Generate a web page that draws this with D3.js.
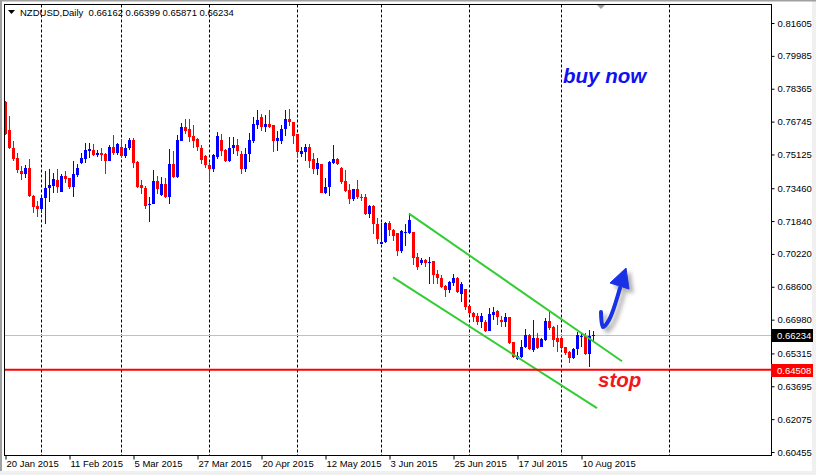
<!DOCTYPE html>
<html><head><meta charset="utf-8">
<script src="https://cdn.jsdelivr.net/npm/d3@7"></script>
<style>
html,body{margin:0;padding:0;background:#fff;}
svg{display:block;font-family:"Liberation Sans",Arial,sans-serif;}
</style></head>
<body>
<svg id="c" width="816" height="475"></svg>
<script>
// ---------- data (NZDUSD daily, 20 Jan 2015 .. 13 Aug 2015) ----------
const symbolTitle = "NZDUSD,Daily";
const lastOHLC = [0.66162, 0.66399, 0.65871, 0.66234];

const opens = [.7772,.7634,.7545,.7496,.7432,.7418,.7447,.7309,.7260,.7245,
.7299,.7349,.7358,.7388,.7329,.7408,.7398,.7354,.7413,.7472,
.7491,.7531,.7536,.7511,.7521,.7516,.7482,.7550,.7521,.7550,
.7506,.7545,.7585,.7477,.7363,.7349,.7265,.7270,.7383,.7314,
.7368,.7304,.7467,.7403,.7580,.7649,.7639,.7604,.7590,.7545,
.7506,.7462,.7442,.7501,.7585,.7536,.7482,.7545,.7560,.7516,
.7442,.7516,.7580,.7659,.7698,.7649,.7664,.7659,.7580,.7580,
.7639,.7688,.7673,.7614,.7516,.7526,.7550,.7491,.7442,.7467,
.7324,.7354,.7472,.7491,.7447,.7383,.7339,.7295,.7344,.7304,
.7304,.7221,.7260,.7172,.7073,.7083,.7176,.7142,.7127,.7034,
.7124,.7127,.7132,.7009,.6975,.6994,.6975,.6985,.6921,.6901,
.6862,.6842,.6881,.6901,.6822,.6847,.6763,.6729,.6714,.6685,
.6685,.6640,.6719,.6739,.6694,.6685,.6709,.6586,.6502,.6512,
.6562,.6621,.6547,.6606,.6562,.6596,.6689,.6660,.6606,.6606,
.6562,.6537,.6507,.6552,.6611,.6616,.6527,.66162];

const highs = [.7777,.7703,.7580,.7521,.7457,.7462,.7491,.7314,.7285,.7304,
.7432,.7442,.7423,.7442,.7418,.7432,.7398,.7482,.7467,.7521,
.7570,.7570,.7565,.7536,.7545,.7521,.7560,.7609,.7570,.7590,
.7565,.7595,.7595,.7482,.7388,.7358,.7304,.7437,.7408,.7403,
.7398,.7541,.7531,.7609,.7668,.7688,.7688,.7659,.7595,.7560,
.7511,.7472,.7516,.7624,.7614,.7541,.7600,.7600,.7590,.7531,
.7545,.7619,.7698,.7732,.7713,.7708,.7732,.7659,.7629,.7659,
.7732,.7737,.7673,.7614,.7550,.7565,.7565,.7521,.7496,.7467,
.7398,.7482,.7560,.7496,.7452,.7437,.7368,.7344,.7388,.7319,
.7319,.7265,.7265,.7201,.7176,.7181,.7186,.7147,.7127,.7142,
.7172,.7226,.7132,.7029,.7004,.6999,.7009,.6985,.6945,.6916,
.6871,.6891,.6921,.6906,.6886,.6847,.6763,.6734,.6729,.6729,
.6694,.6753,.6758,.6744,.6714,.6729,.6709,.6586,.6537,.6596,
.6650,.6625,.6694,.6630,.6606,.6704,.6734,.6665,.6670,.6616,
.6562,.6542,.6557,.6635,.6630,.6630,.6645,.66399];

const lows = [.7609,.7541,.7482,.7423,.7388,.7398,.7304,.7226,.7206,.7226,
.7172,.7280,.7324,.7324,.7329,.7373,.7344,.7304,.7403,.7467,
.7472,.7496,.7506,.7501,.7482,.7418,.7482,.7511,.7511,.7496,
.7496,.7536,.7447,.7349,.7319,.7245,.7181,.7270,.7319,.7309,
.7299,.7270,.7398,.7398,.7580,.7614,.7575,.7545,.7531,.7467,
.7447,.7383,.7427,.7491,.7506,.7477,.7477,.7516,.7506,.7418,
.7427,.7477,.7570,.7639,.7629,.7624,.7644,.7526,.7531,.7565,
.7604,.7654,.7565,.7496,.7501,.7482,.7447,.7418,.7413,.7322,
.7319,.7309,.7467,.7462,.7368,.7329,.7270,.7285,.7295,.7285,
.7216,.7201,.7122,.7073,.7070,.7078,.7112,.7088,.7014,.7029,
.7063,.7122,.6965,.6945,.6965,.6960,.6876,.6876,.6876,.6852,
.6808,.6827,.6862,.6827,.6783,.6744,.6719,.6685,.6670,.6655,
.6635,.6640,.6694,.6670,.6660,.6660,.6576,.6507,.6498,.6507,
.6557,.6547,.6537,.6552,.6562,.6591,.6645,.6562,.6537,.6555,
.6522,.6483,.6502,.6522,.6562,.6522,.6463,.65871];

const closes = [.7614,.7545,.7491,.7437,.7418,.7447,.7309,.7255,.7245,.7299,
.7349,.7363,.7393,.7354,.7408,.7393,.7354,.7418,.7447,.7496,
.7536,.7541,.7511,.7521,.7511,.7482,.7550,.7521,.7565,.7506,
.7545,.7585,.7472,.7354,.7349,.7260,.7270,.7383,.7344,.7368,
.7304,.7467,.7403,.7585,.7649,.7629,.7600,.7580,.7550,.7486,
.7462,.7442,.7511,.7604,.7531,.7482,.7545,.7560,.7531,.7442,
.7516,.7585,.7664,.7683,.7649,.7664,.7649,.7580,.7595,.7639,
.7688,.7673,.7604,.7526,.7531,.7550,.7482,.7442,.7472,.7324,
.7354,.7477,.7491,.7467,.7378,.7334,.7295,.7344,.7304,.7299,
.7221,.7260,.7172,.7098,.7083,.7176,.7142,.7112,.7034,.7137,
.7129,.7191,.7004,.6960,.6994,.6975,.6980,.6916,.6901,.6857,
.6842,.6886,.6901,.6832,.6876,.6758,.6729,.6709,.6685,.6714,
.6640,.6724,.6734,.6709,.6685,.6709,.6581,.6512,.6517,.6562,
.6621,.6552,.6606,.6557,.6601,.6689,.6655,.6596,.6586,.6557,
.6532,.6507,.6552,.6621,.6616,.6527,.6616,.66234];

// x-axis labels (bar index -> label)
const dateLabels = ["20 Jan 2015","11 Feb 2015","5 Mar 2015","27 Mar 2015","20 Apr 2015",
                    "12 May 2015","3 Jun 2015","25 Jun 2015","17 Jul 2015","10 Aug 2015"];
const dateIdx = [0,16,32,48,64,80,96,112,128,144];
// month separators (bar index)
const gridIdx = [9,29,51,73,94,116,139,166];
// price-axis tick labels
const yTicks = [0.81605,0.79985,0.78365,0.76745,0.75125,0.73460,0.71840,
                0.70220,0.68600,0.66980,0.65315,0.63695,0.62075,0.60455];
const currentPrice = 0.66234;
const stopPrice = 0.64508;
// trend channel (bar index, price)
const channelUpper = [[101,0.7221],[154.25,0.6493]];
const channelLower = [[97,0.6906],[148,0.6262]];
// annotations (bar index, price)
const buyNowAt = [139.5,0.7866];
const stopAt = [148.25,0.6368];
const arrowShaft = [[149,0.67357],[149.5,0.66618],[151,0.66963],[153.75,0.6854]];
const arrowHead = [[155.25,0.69526],[151.25,0.68787],[156,0.68491]];

// ---------- scales ----------
const svg = d3.select("#c");
const PL=4.5, PR=771.5, PT=4.5, PB=455.5;
const x = d3.scaleLinear().domain([0,191.5]).range([5,771]);
const y = d3.scaleLinear().domain([0.60455,0.81605]).range([452,23]);

// window chrome
svg.append("rect").attr("x",0).attr("y",0).attr("width",816).attr("height",475).attr("fill","#fff");
svg.append("rect").attr("x",0).attr("y",471).attr("width",816).attr("height",4).attr("fill","#f0f0f0");
svg.append("rect").attr("x",812).attr("y",0).attr("width",4).attr("height",475).attr("fill","#f0f0f0");
svg.append("rect").attr("x",0).attr("y",0).attr("width",816).attr("height",1.5).attr("fill","#a0a0a0");
svg.append("rect").attr("x",0).attr("y",0).attr("width",2).attr("height",471).attr("fill","#a0a0a0");

const plot = svg.append("g");
const clipId="pc";
svg.append("defs").append("clipPath").attr("id",clipId)
  .append("rect").attr("x",PL).attr("y",PT).attr("width",PR-PL).attr("height",PB-PT);

// grid
plot.selectAll("line.grid").data(gridIdx).enter().append("line")
  .attr("x1",d=>Math.round(x(d))+0.5).attr("x2",d=>Math.round(x(d))+0.5)
  .attr("y1",PT).attr("y2",PB)
  .attr("stroke","#000").attr("stroke-width",1).attr("stroke-dasharray","3,2");

// current price line
plot.append("line").attr("x1",PL).attr("x2",PR)
  .attr("y1",Math.round(y(currentPrice))+0.5).attr("y2",Math.round(y(currentPrice))+0.5)
  .attr("stroke","#c0c0c0").attr("stroke-width",1);

// candles
const bars = d3.range(opens.length).map(i=>({i,o:opens[i],h:highs[i],l:lows[i],c:closes[i]}));
const cg = plot.append("g").attr("clip-path",`url(#${clipId})`);
const g = cg.selectAll("g.k").data(bars).enter().append("g");
g.append("rect")
  .attr("x",d=>Math.round(x(d.i)))
  .attr("y",d=>Math.round(y(d.h)))
  .attr("width",1)
  .attr("height",d=>Math.max(1,Math.round(y(d.l))-Math.round(y(d.h))))
  .attr("fill",d=>d.c>=d.o?"#0000ff":"#ff0000");
g.append("rect")
  .attr("x",d=>Math.round(x(d.i))-1)
  .attr("y",d=>Math.round(y(Math.max(d.o,d.c))))
  .attr("width",3)
  .attr("height",d=>Math.max(1,Math.round(y(Math.min(d.o,d.c)))-Math.round(y(Math.max(d.o,d.c)))))
  .attr("fill",d=>d.c>=d.o?"#0000ff":"#ff0000");

// channel lines
const ln = d3.line().x(d=>x(d[0])).y(d=>y(d[1]));
[channelUpper,channelLower].forEach(c=>{
  cg.append("path").attr("d",ln(c)).attr("fill","none")
    .attr("stroke","#32cd32").attr("stroke-width",2);
});

// stop line
cg.append("line").attr("x1",PL).attr("x2",PR)
  .attr("y1",y(stopPrice)).attr("y2",y(stopPrice))
  .attr("stroke","#ff0000").attr("stroke-width",2);

// arrow with shadow
const defs = svg.select("defs");
const f = defs.append("filter").attr("id","blur").attr("x","-50%").attr("y","-50%").attr("width","200%").attr("height","200%");
f.append("feGaussianBlur").attr("stdDeviation",2);
const shaft = d3.line().x(d=>x(d[0])).y(d=>y(d[1])).curve(d3.curveCatmullRom);
const headPts = arrowHead.map(d=>[x(d[0]),y(d[1])]);
function drawArrow(gp,color,dx,dy){
  const a = gp.append("g").attr("transform",`translate(${dx},${dy})`);
  a.append("path").attr("d",shaft(arrowShaft)).attr("fill","none")
    .attr("stroke",color).attr("stroke-width",4).attr("stroke-linecap","round");
  a.append("polygon").attr("points",headPts.map(p=>p.join(",")).join(" "))
    .attr("fill",color).attr("stroke",color).attr("stroke-width",1).attr("stroke-linejoin","round");
  return a;
}
drawArrow(plot,"#9a9a9a",4,4).attr("filter","url(#blur)").attr("opacity",0.8);
drawArrow(plot,"#1a32e6",0,0);

// annotation texts
plot.append("text").attr("x",x(buyNowAt[0])).attr("y",y(buyNowAt[1]))
  .attr("font-size",20.5).attr("font-weight","bold").attr("font-style","italic")
  .attr("fill","#1010f0").text("buy now");
plot.append("text").attr("x",x(stopAt[0])).attr("y",y(stopAt[1]))
  .attr("font-size",20.5).attr("font-weight","bold").attr("font-style","italic")
  .attr("fill","#f01818").text("stop");

// frame
svg.append("rect").attr("x",PL).attr("y",PT).attr("width",PR-PL).attr("height",PB-PT)
  .attr("fill","none").attr("stroke","#000").attr("stroke-width",1);

// chart-shift marker
svg.append("polygon").attr("points","597,5 605,5 601,9").attr("fill","#a0a0a0");

// right price axis
const ya = svg.append("g").attr("transform",`translate(${PR},0)`)
  .call(d3.axisRight(y).tickValues(yTicks).tickSize(3).tickPadding(3).tickFormat(d3.format(".5f")));
ya.select(".domain").remove();
ya.selectAll("text").attr("font-family","Liberation Sans, Arial, sans-serif").attr("font-size","9.5px").attr("fill","#000");
ya.selectAll("line").attr("stroke","#000");

// bottom time axis
const xa = svg.append("g").attr("transform",`translate(0,${PB})`)
  .call(d3.axisBottom(x).tickValues(dateIdx).tickSize(4).tickPadding(1).tickFormat((d,i)=>dateLabels[i]));
xa.select(".domain").remove();
xa.selectAll("text").attr("font-family","Liberation Sans, Arial, sans-serif").attr("font-size","9.5px")
  .attr("fill","#000").attr("text-anchor","start").attr("dx","1");
xa.selectAll("line").attr("stroke","#000").attr("transform","translate(0.5,0)");

// price tags
function tag(p,bg){
  const yy = Math.round(y(p));
  svg.append("rect").attr("x",PR-0.5).attr("y",yy-6).attr("width",42).attr("height",13).attr("fill",bg);
  svg.append("text").attr("x",PR+5.5).attr("y",yy+3.5).attr("font-size","9.5px")
    .attr("fill","#fff").text(d3.format(".5f")(p));
}
tag(currentPrice,"#000");
tag(stopPrice,"#ff0000");

// header
svg.append("polygon").attr("points","8,10 15,10 11.5,14").attr("fill","#000");
svg.append("text").attr("x",20).attr("y",16).attr("font-size","9.5px").attr("fill","#000")
  .attr("xml:space","preserve").style("white-space","pre")
  .text(symbolTitle + "  " + lastOHLC.map(d3.format(".5f")).join(" "));
</script>
</body></html>
